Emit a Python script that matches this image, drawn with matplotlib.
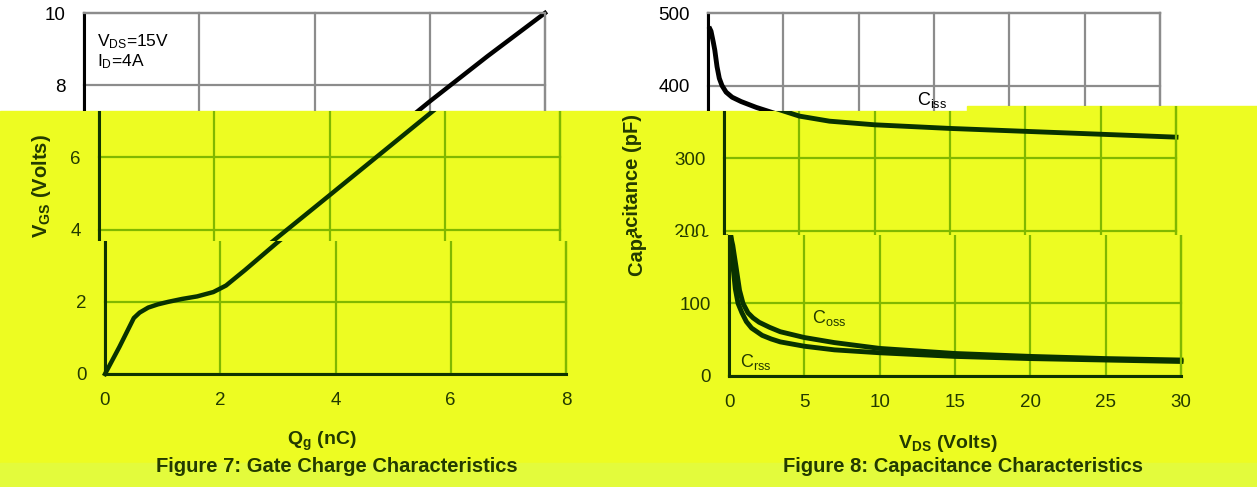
import matplotlib
matplotlib.use('Agg')
import matplotlib.pyplot as plt
from matplotlib.transforms import Bbox, TransformedBbox
from matplotlib.text import Text
from matplotlib.spines import Spine
from matplotlib.patches import Rectangle

plt.rcParams['font.family'] = ['Liberation Sans', 'DejaVu Sans']
plt.rcParams['mathtext.default'] = 'regular'

W, H = 1257, 487

# Figure 7: gate charge
qg = [0, 0.25, 0.5, 0.6, 0.75, 0.92, 1.1, 1.34, 1.6, 1.88, 2.1, 2.43, 2.98, 4.0, 5.0, 6.0, 7.0, 8.0]
vgs = [0, 0.75, 1.55, 1.7, 1.84, 1.93, 2.0, 2.08, 2.15, 2.27, 2.45, 2.88, 3.63, 4.95, 6.25, 7.55, 8.8, 10.0]

# Figure 8: capacitance
vds_iss = [0.13, 0.2, 0.35, 0.45, 0.6, 0.75, 0.93, 1.2, 1.6, 2.2, 3.2, 5, 7, 10, 15, 20, 25, 30]
ciss = [478, 475, 460, 449, 426, 410, 400, 391, 384, 378, 370, 358, 351, 346, 341, 337, 333, 329]
vds_oss = [0.13, 0.25, 0.47, 0.7, 0.93, 1.26, 1.6, 2, 2.7, 3.4, 4.2, 5, 7, 10, 15, 20, 25, 30]
coss = [191, 180, 150, 118, 100, 87, 80, 74, 67, 61, 57, 53, 46, 38, 31, 27, 24, 22]
vds_rss = [0.13, 0.2, 0.27, 0.42, 0.6, 0.86, 1.15, 1.5, 2.2, 2.8, 3.4, 5, 7, 10, 15, 20, 25, 30]
crss = [191, 172, 150, 120, 100, 87, 75, 66, 56, 51, 47, 41, 36, 32, 27, 24, 22, 20]

white = dict(grid='#8c8c8c', axis='#000000', line='#000000', text='#000000')
yellow = dict(grid='#80b800', axis='#0f3300', line='#083200', text='#233a00')
YEL = '#edfc22'
YEL2 = '#e3fb3c'

fig = plt.figure(figsize=(W / 100, H / 100), dpi=100)
fig.patch.set_facecolor('white')

# yellow bands behind everything
fig.add_artist(Rectangle((0, 0), 967 / W, (H - 111) / H, transform=fig.transFigure,
                         color=YEL, zorder=-10))
fig.add_artist(Rectangle((967 / W, 0), (W - 967) / W, (H - 106) / H, transform=fig.transFigure,
                         color=YEL, zorder=-10))
fig.add_artist(Rectangle((0, 0), 1, (H - 463) / H, transform=fig.transFigure,
                         color=YEL2, zorder=-9))


def px_box(l, t, r, b, dx):
    return [(l + dx) / W, 1 - b / H, (r - l) / W, (b - t) / H]


def frame(ax, st, xlim, ylim, xt, yt):
    ax.set_xlim(*xlim)
    ax.set_ylim(*ylim)
    ax.set_xticks(xt)
    ax.set_yticks(yt)
    ax.patch.set_visible(False)
    ax.grid(True, color=st['grid'], lw=1.6)
    ax.tick_params(length=0, labelsize=13.5, labelcolor=st['text'])
    ax.tick_params(axis='y', pad=13)
    ax.tick_params(axis='x', pad=13)
    for s in ['top', 'right']:
        ax.spines[s].set_color(st['grid'])
        ax.spines[s].set_linewidth(1.6)
    for s in ['left', 'bottom']:
        ax.spines[s].set_color(st['axis'])
        ax.spines[s].set_linewidth(2.2)


def gate_panel(dx, st):
    ax = fig.add_axes(px_box(84, 13, 545, 374, dx))
    frame(ax, st, (0, 8), (0, 10), [0, 2, 4, 6, 8], [0, 2, 4, 6, 8, 10])
    ax.plot(qg, vgs, color=st['line'], lw=3.2, solid_joinstyle='round')
    ax.text(0.028, 0.92, r'V$_{DS}$=15V', transform=ax.transAxes, fontsize=12.5,
            color=st['text'], va='center')
    ax.text(0.028, 0.864, r'I$_{D}$=4A', transform=ax.transAxes, fontsize=12.5,
            color=st['text'], va='center')
    ax.text(-0.124, 0.52, r'V$_{GS}$ (Volts)', transform=ax.transAxes, rotation=90,
            ha='center', va='center', fontsize=14.5, weight='bold', color=st['text'])
    ax.text(0.47, -0.186, r'Q$_{g}$ (nC)', transform=ax.transAxes,
            ha='center', va='center', fontsize=14, weight='bold', color=st['text'])
    return ax


def cap_panel(dx, st):
    ax = fig.add_axes(px_box(708, 13, 1160, 376, dx))
    frame(ax, st, (0, 30), (0, 500), [0, 5, 10, 15, 20, 25, 30], [0, 100, 200, 300, 400, 500])
    ax.plot(vds_iss, ciss, color=st['line'], lw=3.5, solid_joinstyle='round')
    ax.plot(vds_oss, coss, color=st['line'], lw=3.5, solid_joinstyle='round')
    ax.plot(vds_rss, crss, color=st['line'], lw=3.5, solid_joinstyle='round')
    ax.text(13.9, 380, r'C$_{iss}$', fontsize=13, color=st['text'], va='center')
    ax.text(5.5, 80, r'C$_{oss}$', fontsize=13, color=st['text'], va='center')
    t = ax.text(0.75, 19, r'C$_{rss}$', fontsize=13, color=st['text'], va='center', gid='inside')
    t.set_clip_path(ax.patch)
    ax.text(-0.2035, 0.5, 'Capacitance (pF)', transform=ax.transAxes, rotation=90,
            ha='center', va='center', fontsize=14.5, weight='bold', color=st['text'])
    ax.text(0.485, -0.185, r'V$_{DS}$ (Volts)', transform=ax.transAxes,
            ha='center', va='center', fontsize=14, weight='bold', color=st['text'])
    return ax


def clip_to(ax, bb):
    ax.xaxis.get_major_ticks()
    ax.yaxis.get_major_ticks()
    for a in ax.findobj():
        if a is ax:
            continue
        if isinstance(a, (Text, Spine)) and a.get_gid() != 'inside':
            a.set_clip_path(None)
        a.set_clip_on(True)
        a.set_clip_box(bb)


# (left, top, right, bottom, shift left panel, shift right panel, style)
# each strip of the page is drawn with its own sideways shift
strips = [
    (0, 0, 967, 111, 0, 0, white),
    (967, 0, W, 106, 0, 0, white),
    (0, 111, 600, 241, 15, 16, yellow),
    (600, 111, 967, 235, 15, 16, yellow),
    (967, 106, W, 235, 15, 16, yellow),
    (0, 241, 600, H, 21, 21, yellow),
    (600, 235, W, H, 21, 21, yellow),
]

made = []
for l, t, r, b, dxl, dxr, st in strips:
    bb = TransformedBbox(Bbox.from_extents(l / W, 1 - b / H, r / W, 1 - t / H), fig.transFigure)
    for ax in (gate_panel(dxl, st), cap_panel(dxr, st)):
        clip_to(ax, bb)
        made.append((ax, bb))

fig.text(337 / W, 1 - 466 / H, 'Figure 7: Gate Charge Characteristics', ha='center', va='center',
         fontsize=14.5, weight='bold', color=yellow['text'])
fig.text(963 / W, 1 - 466 / H, 'Figure 8: Capacitance Characteristics', ha='center', va='center',
         fontsize=14.5, weight='bold', color=yellow['text'])

# texts that fall entirely outside their strip are switched off
fig.canvas.draw()
renderer = fig.canvas.get_renderer()
for ax, bb in made:
    box = Bbox(bb.get_points())
    for a in ax.findobj(Text):
        if not a.get_visible() or a.get_text() == '':
            continue
        ext = a.get_window_extent(renderer)
        if not ext.overlaps(box):
            a.set_visible(False)

fig.savefig('out.png', dpi=100)
